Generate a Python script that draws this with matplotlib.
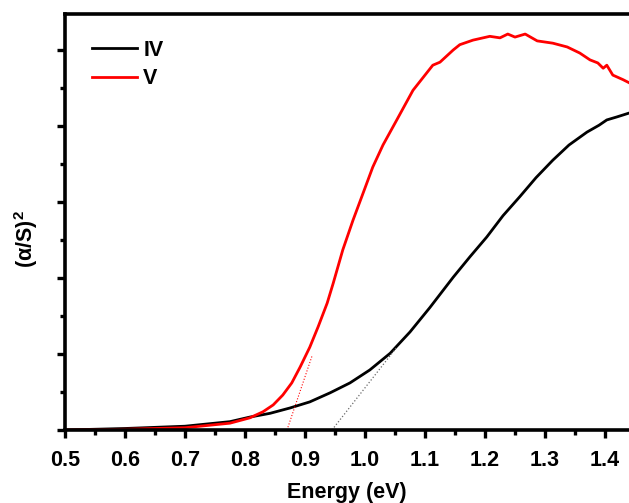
import matplotlib
matplotlib.use('Agg')
import matplotlib.pyplot as plt
from matplotlib.ticker import MultipleLocator, NullFormatter, FormatStrFormatter

plt.rcParams['font.family'] = ['Liberation Sans', 'DejaVu Sans']
plt.rcParams['font.weight'] = 'bold'
plt.rcParams['mathtext.fontset'] = 'custom'
plt.rcParams['mathtext.rm'] = 'Liberation Sans:bold'
plt.rcParams['mathtext.bf'] = 'Liberation Sans:bold'

# sample IV (black)
energy_iv = [0.50, 0.60, 0.70, 0.775, 0.808, 0.842, 0.875, 0.908, 0.942, 0.975,
             1.008, 1.042, 1.075, 1.108, 1.147, 1.175, 1.203, 1.230, 1.258,
             1.285, 1.313, 1.340, 1.370, 1.390, 1.403, 1.420, 1.44]
signal_iv = [0.00, 0.02, 0.05, 0.11, 0.17, 0.22, 0.29, 0.37, 0.49, 0.62,
             0.79, 1.01, 1.29, 1.61, 2.01, 2.28, 2.54, 2.82, 3.07,
             3.32, 3.55, 3.75, 3.92, 4.01, 4.08, 4.12, 4.17]

# sample V (red)
energy_v = [0.50, 0.60, 0.70, 0.775, 0.808, 0.830, 0.847, 0.863, 0.878, 0.892,
            0.908, 0.922, 0.937, 0.947, 0.963, 0.980, 0.997, 1.013, 1.030,
            1.053, 1.080, 1.113, 1.125, 1.147, 1.158, 1.180, 1.208, 1.225,
            1.238, 1.250, 1.267, 1.287, 1.313, 1.337, 1.358, 1.375, 1.388,
            1.397, 1.403, 1.413, 1.430, 1.44]
signal_v = [0.00, 0.01, 0.03, 0.09, 0.16, 0.24, 0.33, 0.46, 0.62, 0.83,
            1.09, 1.36, 1.67, 1.93, 2.37, 2.76, 3.12, 3.46, 3.75,
            4.08, 4.47, 4.80, 4.84, 5.00, 5.07, 5.13, 5.18, 5.16,
            5.21, 5.17, 5.21, 5.12, 5.09, 5.04, 4.96, 4.87, 4.83,
            4.76, 4.80, 4.67, 4.61, 4.57]

# tangent (Tauc) extrapolation lines
tan_v_x = [0.87, 0.912]
tan_v_y = [0.0, 0.98]
tan_iv_x = [0.945, 1.053]
tan_iv_y = [0.0, 1.09]

fig = plt.figure(figsize=(6.29, 5.03), dpi=100)
ax = fig.add_axes([0.1033, 0.1451, 0.8967, 0.8271])

ax.plot(energy_iv, signal_iv, color='black', lw=2.0, label='IV')
ax.plot(energy_v, signal_v, color='red', lw=2.0, label='V')
ax.plot(tan_v_x, tan_v_y, color='red', lw=0.8, ls=':')
ax.plot(tan_iv_x, tan_iv_y, color='dimgray', lw=0.9, ls=':')

ax.set_xlim(0.5, 1.44)
ax.set_ylim(0, 5.474)

ax.xaxis.set_major_locator(MultipleLocator(0.1))
ax.xaxis.set_minor_locator(MultipleLocator(0.05))
ax.yaxis.set_major_locator(MultipleLocator(1))
ax.yaxis.set_minor_locator(MultipleLocator(0.5))
ax.yaxis.set_major_formatter(NullFormatter())
ax.xaxis.set_major_formatter(FormatStrFormatter('%.1f'))

ax.tick_params(axis='both', which='major', direction='out', length=5.5, width=2.4,
               labelsize=15.5, pad=9)
ax.tick_params(axis='both', which='minor', direction='out', length=3.5, width=2.4)
ax.tick_params(top=False, right=False)

for side in ['left', 'bottom', 'top']:
    ax.spines[side].set_linewidth(2.6)
ax.spines['right'].set_visible(False)

ax.set_xlabel('Energy (eV)', fontsize=15.5, fontweight='bold', labelpad=8)
ax.set_ylabel('(α/S)$^2$', fontsize=15.5, fontweight='bold')
ax.yaxis.set_label_coords(-0.045, 0.46)

leg = ax.legend(loc='upper left', bbox_to_anchor=(0.013, 0.985), frameon=False,
                fontsize=15.5, handlelength=2.1, handletextpad=0.3, labelspacing=0.35)
for t in leg.get_texts():
    t.set_fontweight('bold')

fig.savefig('out.png', dpi=100)
